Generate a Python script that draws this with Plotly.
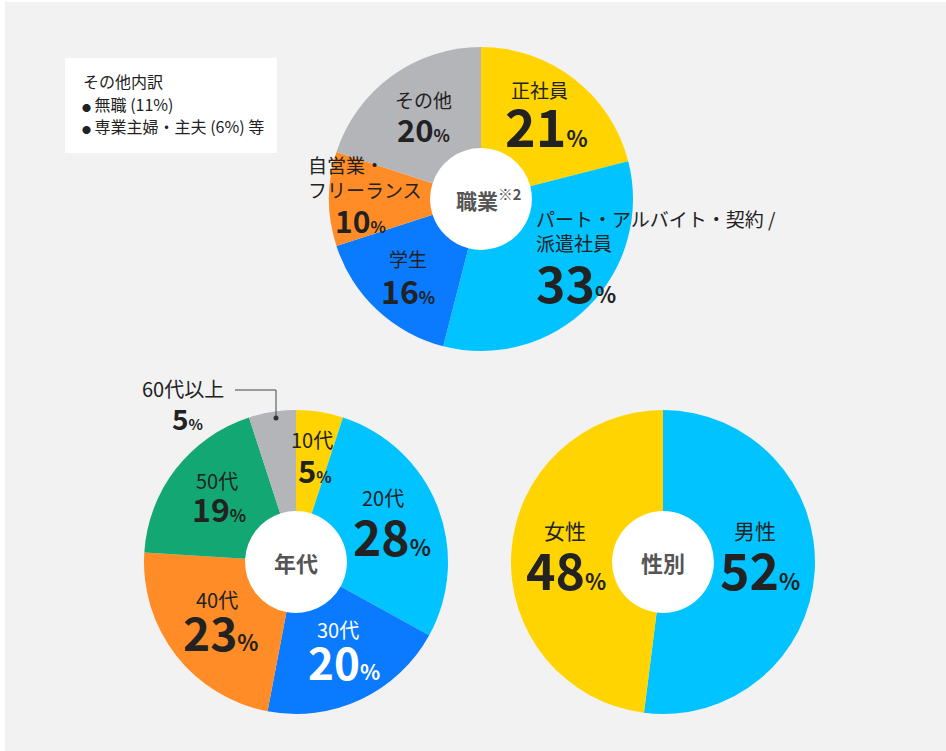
"""Respondent profile donuts: occupation, age group and gender."""

import plotly.graph_objects as go

W, H = 946, 751
FONT = "Noto Sans CJK JP"

# Data
job_labels = ["正社員", "パート・アルバイト・契約 / 派遣社員", "学生", "自営業・フリーランス", "その他"]
job_values = [21, 33, 16, 10, 20]

age_labels = ["10代", "20代", "30代", "40代", "50代", "60代以上"]
age_values = [5, 28, 20, 23, 19, 5]

gender_labels = ["男性", "女性"]
gender_values = [52, 48]

other_title = "その他内訳"
other_items = ["無職 (11%)", "専業主婦・主夫 (6%) 等"]

colors = {
    "yellow": "#FFD400",
    "cyan": "#00C3FF",
    "blue": "#0A7AFF",
    "orange": "#FF8C26",
    "gray": "#B4B5B8",
    "green": "#13A873",
}
job_colors = [colors[c] for c in ["yellow", "cyan", "blue", "orange", "gray"]]
age_colors = [colors[c] for c in ["yellow", "cyan", "blue", "orange", "green", "gray"]]
gender_colors = [colors["cyan"], colors["yellow"]]


def px(x, y):
    """Pixel position (from top-left) -> paper coordinates."""
    return x / W, 1 - y / H


def pie_domain(cx, cy, r):
    x0, y0 = px(cx - r, cy + r)
    x1, y1 = px(cx + r, cy - r)
    return dict(x=[x0, x1], y=[y0, y1])


fig = go.Figure()

for labels, values, cols, center, name in [
    (job_labels, job_values, job_colors, (481, 199), "職業"),
    (age_labels, age_values, age_colors, (296, 562), "年代"),
    (gender_labels, gender_values, gender_colors, (663, 562), "性別"),
]:
    # white disc under the hole
    fig.add_trace(
        go.Pie(
            values=[1],
            marker=dict(colors=["white"], line=dict(width=0)),
            textinfo="none",
            hoverinfo="skip",
            showlegend=False,
            domain=pie_domain(*center, 53),
        )
    )
    fig.add_trace(
        go.Pie(
            labels=labels,
            values=values,
            name=name,
            hole=0.335,
            sort=False,
            direction="clockwise",
            rotation=0,
            marker=dict(colors=cols, line=dict(width=0)),
            textinfo="none",
            hoverinfo="label+percent",
            showlegend=False,
            domain=pie_domain(*center, 152),
        )
    )

annotations = []


def add_text(text, x, y, size, color="#222222", weight=400, xanchor="center"):
    ax, ay = px(x, y)
    annotations.append(
        dict(
            text=text, x=ax, y=ay, xref="paper", yref="paper",
            xanchor=xanchor, yanchor="middle", showarrow=False,
            font=dict(family=FONT, size=size, color=color, weight=weight),
        )
    )


def add_value(value, x, y, size, pct_size, color="#222222", xanchor="center"):
    text = f"{value}<span style='font-size:{pct_size}px'>%</span>"
    add_text(text, x, y, size, color=color, weight=700, xanchor=xanchor)


# 職業 (top)
add_text(job_labels[0], 539, 89, 19)
add_value(job_values[0], 546, 125, 52, 22)
add_text("パート・アルバイト・契約 /", 534, 218, 19, xanchor="left")
add_text("派遣社員", 534, 242, 19, xanchor="left")
add_value(job_values[1], 534, 281, 50, 22, xanchor="left")
add_text(job_labels[2], 408, 258, 19)
add_value(job_values[2], 408, 290, 32, 17)
add_text("自営業・", 306, 164, 19, xanchor="left")
add_text("フリーランス", 306, 189, 19, xanchor="left")
add_value(job_values[3], 360, 220, 30, 16)
add_text(job_labels[4], 423, 99, 19)
add_value(job_values[4], 423, 128, 31, 17)
add_text("職業<sup>※2</sup>", 489, 199, 21, color="#555555", weight=700)

# 年代 (bottom left)
add_text(age_labels[5], 183, 388, 20)
add_value(age_values[5], 187, 418, 28, 15)
add_text(age_labels[0], 312, 440, 20)
add_value(age_values[0], 315, 469, 31, 16)
add_text(age_labels[1], 383, 497, 20)
add_value(age_values[1], 392, 535, 48, 22)
add_text(age_labels[2], 338, 629, 20, color="white")
add_value(age_values[2], 344, 661, 44, 21, color="white")
add_text(age_labels[3], 217, 599, 20)
add_value(age_values[3], 220, 631, 46, 22)
add_text(age_labels[4], 217, 480, 20)
add_value(age_values[4], 219, 508, 32, 17)
add_text("年代", 296, 562, 22, color="#555555", weight=700)

# 性別 (bottom right)
add_text(gender_labels[1], 565, 530, 21)
add_value(gender_values[1], 566, 568, 50, 22)
add_text(gender_labels[0], 755, 530, 21)
add_value(gender_values[0], 760, 568, 50, 22)
add_text("性別", 663, 562, 22, color="#555555", weight=700)

# その他内訳 box
add_text(other_title, 81, 81, 16, xanchor="left")
for i, item in enumerate(other_items):
    add_text(f"<span style='font-size:9px'>●</span> {item}", 80, 104 + 22 * i, 16, xanchor="left")

shapes = []
bx0, by0 = px(5, 751)
bx1, by1 = px(946, 2)
shapes.append(dict(type="rect", xref="paper", yref="paper", x0=bx0, y0=by0, x1=bx1, y1=by1,
                   fillcolor="#F2F2F2", line=dict(width=0), layer="below"))
lx0, ly0 = px(65, 153)
lx1, ly1 = px(277, 58)
shapes.append(dict(type="rect", xref="paper", yref="paper", x0=lx0, y0=ly0, x1=lx1, y1=ly1,
                   fillcolor="white", line=dict(width=0), layer="below"))

# leader line for 60代以上
for (xa, ya), (xb, yb) in [((235, 390), (276, 390)), ((276, 390), (276, 418))]:
    p0, p1 = px(xa, ya), px(xb, yb)
    shapes.append(dict(type="line", xref="paper", yref="paper", x0=p0[0], y0=p0[1], x1=p1[0], y1=p1[1],
                       line=dict(color="#444444", width=1)))
c0, c1 = px(273.5, 420.5), px(278.5, 415.5)
shapes.append(dict(type="circle", xref="paper", yref="paper", x0=c0[0], y0=c0[1], x1=c1[0], y1=c1[1],
                   fillcolor="#333333", line=dict(width=0)))

fig.update_layout(
    width=W,
    height=H,
    margin=dict(l=0, r=0, t=0, b=0),
    paper_bgcolor="white",
    plot_bgcolor="white",
    annotations=annotations,
    shapes=shapes,
    font=dict(family=FONT),
)

fig.write_html(
    "out.html",
    config={"displayModeBar": False},
    post_script="document.body.style.margin='0';",
)
